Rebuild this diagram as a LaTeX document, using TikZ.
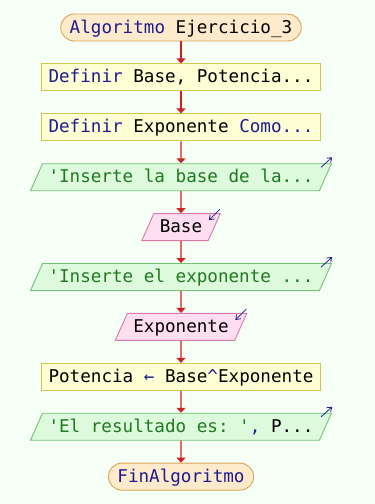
\documentclass[tikz,border=0pt]{standalone}
\usepackage{fontspec}
\setmonofont{DejaVu Sans Mono}
\usetikzlibrary{positioning, shapes.geometric, arrows.meta}

\definecolor{pagebg}{HTML}{F6FFF6}
\definecolor{termfill}{HTML}{FFEBCB}
\definecolor{termline}{HTML}{D9A255}
\definecolor{procfill}{HTML}{FFFFD6}
\definecolor{procline}{HTML}{CCC850}
\definecolor{outfill}{HTML}{DDFADD}
\definecolor{outline}{HTML}{72C272}
\definecolor{infill}{HTML}{FFDFEF}
\definecolor{inline}{HTML}{D77AA8}
\definecolor{kwblue}{HTML}{1C1C90}
\definecolor{strgreen}{HTML}{1E7A1E}
\definecolor{flowred}{HTML}{CC2222}

\newcommand{\kw}[1]{\textcolor{kwblue}{#1}}
\newcommand{\str}[1]{\textcolor{strgreen}{#1}}

\begin{document}
\begin{tikzpicture}[
        x=1pt, y=1pt,
        node distance=22pt,
        base/.style={
            draw,
            line width=0.9pt,
            font=\ttfamily\fontsize{17.6}{20}\selectfont,
            text height=14pt,
            text depth=3pt,
            inner ysep=5pt
        },
        terminal/.style={
            base,
            rectangle,
            rounded corners=13.5pt,
            inner xsep=9pt,
            draw=termline,
            fill=termfill
        },
        process/.style={
            base,
            rectangle,
            inner xsep=7pt,
            draw=procline,
            fill=procfill
        },
        io/.style={
            base,
            trapezium,
            trapezium left angle=66,
            trapezium right angle=114,
            inner xsep=6pt
        },
        output/.style={
            io,
            draw=outline,
            fill=outfill
        },
        input/.style={
            io,
            draw=inline,
            fill=infill
        },
        flow/.style={
            -{Triangle[length=5pt, width=9pt]},
            line width=1.2pt,
            flowred
        },
        iomark/.style={
            -{Straight Barb[length=4pt, width=6pt]},
            line width=0.8pt,
            kwblue
        }
    ]

    % page
    \useasboundingbox[fill=pagebg] (0,0) rectangle (375,-504);

    % Start
    \node[terminal] (inicio) at (181,-27.5) {\kw{Algoritmo} Ejercicio\_3};

    % Declarations
    \node[process, below=of inicio] (defbase) {\kw{Definir} Base, Potencia...};
    \node[process, below=of defbase] (defexp) {\kw{Definir} Exponente \kw{Como...}};

    % Read the base
    \node[output, below=of defexp] (msgbase) {\str{'Inserte la base de la...}};
    \node[input, below=of msgbase] (leebase) {Base};

    % Read the exponent
    \node[output, below=of leebase] (msgexp) {\str{'Inserte el exponente ...}};
    \node[input, below=of msgexp] (leeexp) {Exponente};

    % Power
    \node[process, below=of leeexp] (calculo) {Potencia \kw{\char"2190} Base\kw{\char"5E}Exponente};

    % Result
    \node[output, below=of calculo] (resultado) {\str{'El resultado es: '}\kw{,} P...};

    % End
    \node[terminal, below=of resultado] (fin) {\kw{FinAlgoritmo}};

    % Flow
    \draw[flow] (inicio) -- (defbase);
    \draw[flow] (defbase) -- (defexp);
    \draw[flow] (defexp) -- (msgbase);
    \draw[flow] (msgbase) -- (leebase);
    \draw[flow] (leebase) -- (msgexp);
    \draw[flow] (msgexp) -- (leeexp);
    \draw[flow] (leeexp) -- (calculo);
    \draw[flow] (calculo) -- (resultado);
    \draw[flow] (resultado) -- (fin);

    % Output / input markers
    \draw[iomark] ([shift={(-11,-4)}]msgbase.top right corner) -- ([shift={(0,6)}]msgbase.top right corner);
    \draw[iomark] ([shift={(-11,-4)}]msgexp.top right corner) -- ([shift={(0,6)}]msgexp.top right corner);
    \draw[iomark] ([shift={(-11,-4)}]resultado.top right corner) -- ([shift={(0,6)}]resultado.top right corner);
    \draw[iomark] ([shift={(-1,4)}]leebase.top right corner) -- ([shift={(-12,-7)}]leebase.top right corner);
    \draw[iomark] ([shift={(-1,4)}]leeexp.top right corner) -- ([shift={(-12,-7)}]leeexp.top right corner);

\end{tikzpicture}
\end{document}
